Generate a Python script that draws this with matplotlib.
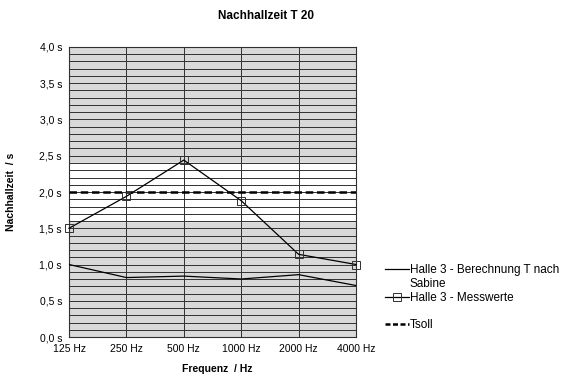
import numpy as np
import matplotlib
matplotlib.use('Agg')
import matplotlib.pyplot as plt
from matplotlib.lines import Line2D
from matplotlib.ticker import MultipleLocator

plt.rcParams['font.family'] = ['Liberation Sans', 'DejaVu Sans']

## Daten
freq = ['125 Hz', '250 Hz', '500 Hz', '1000 Hz', '2000 Hz', '4000 Hz']
sabine = [1.00, 0.82, 0.84, 0.80, 0.86, 0.71]
messwerte = [1.50, 1.94, 2.44, 1.88, 1.14, 1.00]
tsoll = 2.0
toleranz = [1.6, 2.4]

x = np.arange(len(freq))

fig = plt.figure(figsize=(5.62, 3.79), dpi=100)
ax = fig.add_axes([0.1228, 0.1108, 0.5107, 0.7652])

## Graue Bereiche ausserhalb der Toleranz
ax.set_facecolor('#d9d9d9')
ax.axhspan(toleranz[0], toleranz[1], color='white', zorder=0)

## Raster
ax.set_xlim(0, len(freq) - 1)
ax.set_ylim(0, 4.0)
ax.yaxis.set_major_locator(MultipleLocator(0.5))
ax.yaxis.set_minor_locator(MultipleLocator(0.1))
ax.set_xticks(x)
ax.set_xticklabels(freq)
ax.grid(which='both', axis='y', color='#303030', lw=0.7, zorder=1)
ax.grid(which='major', axis='x', color='#303030', lw=0.7, zorder=1)
ax.set_axisbelow(True)
ax.yaxis.set_major_formatter(lambda v, p: ('%.1f s' % v).replace('.', ','))
ax.tick_params(axis='both', which='both', length=0, labelsize=7.5, pad=5)
for s in ax.spines.values():
    s.set_color('#303030')
    s.set_linewidth(0.8)

## Kurven
ax.plot(x, sabine, color='black', lw=0.9, zorder=3)
ax.plot(x, messwerte, color='black', lw=0.9, marker='s', markersize=6,
        markerfacecolor='none', markeredgecolor='#303030', markeredgewidth=0.7,
        clip_on=False, zorder=4)
ax.axhline(tsoll, color='black', lw=1.8, ls=(0, (3, 1.5)), zorder=3)

ax.set_title('Nachhallzeit T 20', fontsize=8.5, fontweight='bold', x=0.686, pad=20)
ax.set_xlabel('Frequenz  / Hz', fontsize=7.5, fontweight='bold')
ax.set_ylabel('Nachhallzeit  / s', fontsize=7.5, fontweight='bold')
ax.xaxis.set_label_coords(0.516, -0.093)
ax.yaxis.set_label_coords(-0.185, 0.5)

## Legende
blank = Line2D([], [], ls='none')
handles = [Line2D([], [], color='black', lw=0.9),
           blank,
           Line2D([], [], color='black', lw=0.9, marker='s', markersize=6,
                  markerfacecolor='none', markeredgecolor='#303030', markeredgewidth=0.7),
           blank,
           Line2D([], [], color='black', lw=1.8, ls=(0, (2, 1)))]
labels = ['Halle 3 - Berechnung T nach', 'Sabine', 'Halle 3 - Messwerte', ' ', 'Tsoll']
fig.legend(handles, labels, loc='upper left', bbox_to_anchor=(0.685, 0.303),
           frameon=False, fontsize=8.5, handlelength=2.0, handletextpad=0.1,
           labelspacing=0.15, borderaxespad=0, borderpad=0)

fig.savefig('out.png', dpi=100)
